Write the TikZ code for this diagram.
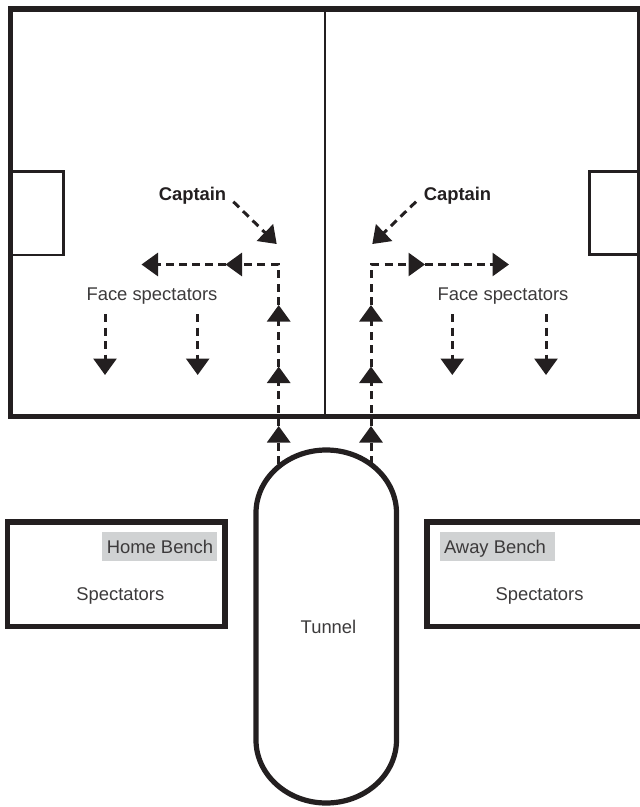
\documentclass[tikz,border=0pt]{standalone}
\usepackage{fontspec}
\setmainfont{Liberation Sans}
\usetikzlibrary{arrows.meta}
\definecolor{ink}{HTML}{231F20}
\definecolor{txt}{HTML}{3C3A3B}
\definecolor{bench}{HTML}{D0D2D3}
\tikzset{
  x=1pt,y=-1pt,
  heavy/.style={draw=ink,line width=5.2pt},
  thinline/.style={draw=ink,line width=2.5pt},
  midline/.style={draw=ink,line width=2pt},
  lbl/.style={inner sep=0pt,anchor=base,text=txt,font=\fontsize{18.4}{20}\selectfont},
  boldlbl/.style={inner sep=0pt,anchor=base,text=ink,font=\fontsize{18.4}{20}\selectfont\bfseries},
  benchbg/.style={fill=bench,draw=none},
  walk/.style={draw=ink,line width=3pt,dash pattern=on 8pt off 5.5pt,
    -{Triangle[length=16.5pt,width=23pt,fill=ink]}},
  walkfit/.style={walk,dash pattern=on 8pt off 4.9pt},
}
\begin{document}
\begin{tikzpicture}
\useasboundingbox (0,0) rectangle (640,807);
\clip (0,0) rectangle (640,807);
% pitch
\coordinate (fieldTL) at (10.5,9);
\coordinate (fieldBR) at (640,416.5);
\coordinate (midT) at (325,9);
\coordinate (midB) at (325,416.5);
\draw[midline] (midT) -- (midB);
\draw[thinline] (10.5,171.5) rectangle (63.5,255);
\draw[thinline] (645,171.5) rectangle (589.5,254.5);
\draw[heavy] (fieldTL) rectangle (fieldBR);
% benches
\draw[heavy] (7.5,522) rectangle (225,626.5);
\draw[heavy] (427,522) rectangle (660,626.5);
\fill[benchbg] (102,532) rectangle (217,561);
\fill[benchbg] (440,532) rectangle (555,561);
\node[lbl] (homeb) at (160,553) {Home Bench};
\node[lbl] (awayb) at (495,553) {Away Bench};
\node[lbl] (specl) at (120.3,600.5) {Spectators};
\node[lbl] (specr) at (539.5,600.5) {Spectators};
% arrow points
\coordinate (startL) at (278.7,464);
\coordinate (startR) at (371,464);
\coordinate (l1) at (278.7,426);
\coordinate (l2) at (278.7,366.5);
\coordinate (l3) at (278.7,305);
\coordinate (lc) at (278.7,264.5);
\coordinate (l4) at (225.5,264.5);
\coordinate (l5) at (141.5,264.5);
\coordinate (r1) at (371,426);
\coordinate (r2) at (371,366.5);
\coordinate (r3) at (371,305);
\coordinate (rc) at (371,264.5);
\coordinate (r4) at (425,264.5);
\coordinate (r5) at (509,264.5);
% walking routes
\draw[walk] (startL) -- (l1);
\draw[walk] (l1) -- (l2);
\draw[walk] (l2) -- (l3);
\draw[walk] (l3) -- (lc) -- (l4);
\draw[walkfit] (l4) -- (l5);
\draw[walk] (startR) -- (r1);
\draw[walk] (r1) -- (r2);
\draw[walk] (r2) -- (r3);
\draw[walk] (r3) -- (rc) -- (r4);
\draw[walkfit] (r4) -- (r5);
% tunnel
\draw[heavy] (256,513) .. controls (256,478.2) and (287.5,450) .. (326.25,450)
  .. controls (365,450) and (396.5,478.2) .. (396.5,513)
  -- (396.5,740) .. controls (396.5,774.8) and (365,803) .. (326.25,803)
  .. controls (287.5,803) and (256,774.8) .. (256,740) -- cycle;
\node[lbl] (tunnel) at (328.5,633.5) {Tunnel};
% captains
\node[boldlbl] (capl) at (192.5,200) {Captain};
\node[boldlbl] (capr) at (457.5,200) {Captain};
\coordinate (capLs) at (233.3,201.7);
\coordinate (capLe) at (276.7,244);
\coordinate (capRs) at (416,201.7);
\coordinate (capRe) at (372.3,244);
\draw[walk] (capLs) -- (capLe);
\draw[walk] (capRs) -- (capRe);
% face spectators
\node[lbl] (facel) at (152,300.5) {Face spectators};
\node[lbl] (facer) at (503,300.5) {Face spectators};
\coordinate (d1s) at (105,314);
\coordinate (d1e) at (105,375);
\coordinate (d2s) at (197.7,314);
\coordinate (d2e) at (197.7,375);
\coordinate (d3s) at (452.3,314);
\coordinate (d3e) at (452.3,375);
\coordinate (d4s) at (546,314);
\coordinate (d4e) at (546,375);
\draw[walk] (d1s) -- (d1e);
\draw[walk] (d2s) -- (d2e);
\draw[walk] (d3s) -- (d3e);
\draw[walk] (d4s) -- (d4e);
\end{tikzpicture}
\end{document}
